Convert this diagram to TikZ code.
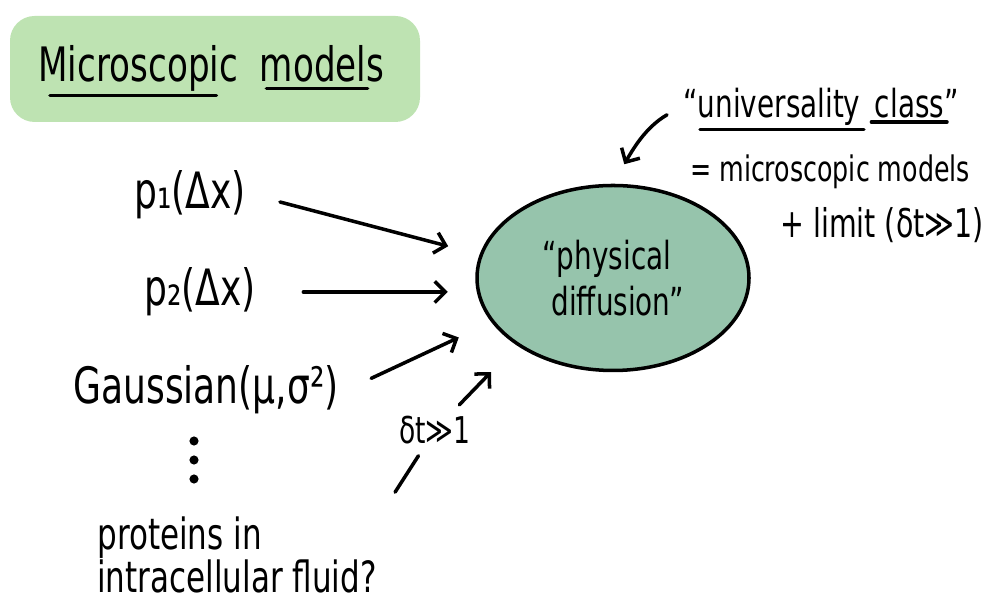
\documentclass[tikz,border=0pt]{standalone}
\usepackage{fontspec}
\setmainfont{DejaVu Sans}[FakeStretch=0.72]
\usetikzlibrary{arrows.meta, positioning, calc, shapes.geometric}
\definecolor{mint}{RGB}{190,227,178}
\definecolor{sage}{RGB}{150,196,172}

\begin{document}
\begin{tikzpicture}[line width=2pt, line cap=round,
    flow/.style={-{Straight Barb[length=6pt,width=12pt]}, line width=2pt},
    big/.style={font=\fontsize{27}{30}\selectfont, inner sep=1pt},
    lbl/.style={font=\fontsize{28.5}{32}\selectfont},
    note/.style={font=\fontsize{21}{24}\selectfont, inner sep=1pt}]
  \useasboundingbox (0,0) rectangle (19.9,12.02);

  % title patch
  \fill[mint, rounded corners=14pt] (0.2,9.58) rectangle (8.4,11.7);
  \node[big, anchor=base west] (micro) at (0.7,10.38) {Microscopic};
  \node[big, base right=0.3cm of micro] (models) {models};
  \draw ($(micro.south west)+(0.3,0)$) -- ($(micro.south east)+(-0.5,0)$);
  \draw ($(models.south west)+(0.2,-0.05)$) -- ($(models.south east)+(-0.4,-0.05)$);

  % the universality class
  \node[ellipse, draw, fill=sage, minimum width=5.44cm, minimum height=3.7cm,
        align=left, font=\fontsize{22}{26}\selectfont] (diff) at (12.26,6.46)
        {“physical\\ \ diffusion”};

  % microscopic models
  \node[lbl] (p1) at (3.8,8.12) {p₁(Δx)};
  \node[lbl] (p2) at (4.0,6.18) {p₂(Δx)};
  \node[lbl] (gauss) at (4.12,4.22) {Gaussian(μ,σ²)};
  \foreach \y in {3.2,2.82,2.44}
    \fill (3.88,\y) circle (2.6pt);
  \node[align=left, font=\fontsize{24.5}{23}\selectfont] (prot) at (4.74,0.92)
        {proteins in\\intracellular fluid?};
  \node[font=\fontsize{21}{24}\selectfont] (dt) at (8.7,3.42) {δt≫1};

  \draw[flow, shorten <=0.55cm, shorten >=0.65cm] (p1.east) -- (diff.170);
  \draw[flow, shorten <=0.8cm, shorten >=0.55cm] (p2.east) -- (p2.east -| diff.west);
  \draw[flow, shorten <=0.55cm, shorten >=0.72cm] (gauss.east) -- (diff.200);
  \draw[shorten <=0.4cm, shorten >=0.1cm] (prot.north east) -- (dt);
  \draw[flow, shorten <=0.1cm, shorten >=0.74cm] (dt) -- (diff.215);

  % label on the right
  \node[note, font=\fontsize{22}{24}\selectfont, anchor=base west] (univ) at (13.6,9.66) {“universality};
  \node[note, font=\fontsize{22}{24}\selectfont, base right=0.15cm of univ] (cls) {class”};
  \draw ($(univ.south west)+(0.4,0)$) -- (univ.south east);
  \draw (cls.south west) -- ($(cls.south east)+(-0.3,0)$);
  \node[note, font=\fontsize{20}{24}\selectfont] (eq1) at (16.6,8.58) {=\ microscopic models};
  \node[note, font=\fontsize{22.5}{24}\selectfont] (eq2) at (17.64,7.52) {+ limit (δt≫1)};
  \draw[flow, shorten <=0.3cm, shorten >=0.45cm] (univ.west) to[out=210, in=60] (diff.north);
\end{tikzpicture}
\end{document}
